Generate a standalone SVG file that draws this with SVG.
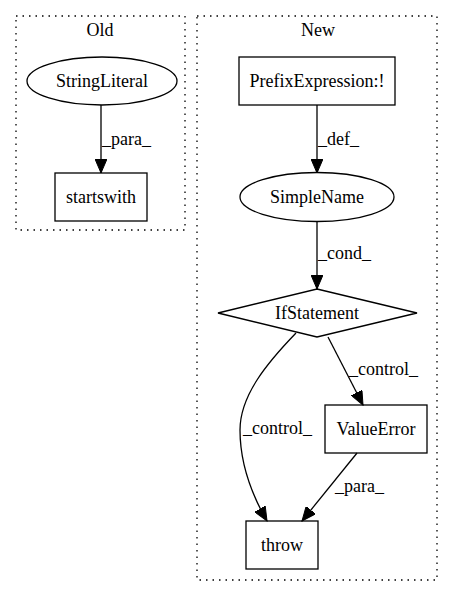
<svg xmlns="http://www.w3.org/2000/svg" width="453" height="596" viewBox="0 0 453 596">
<style>
text{font-family:"Liberation Serif","Times New Roman",serif;font-size:18px;fill:#000}
.c{text-anchor:middle}
.shape{fill:none;stroke:#000;stroke-width:1.3}
.cluster{fill:none;stroke:#000;stroke-width:1.3;stroke-dasharray:1.5,5}
.edge{fill:none;stroke:#000;stroke-width:1.3;marker-end:url(#arrow)}
</style>
<defs>
<marker id="arrow" markerUnits="userSpaceOnUse" markerWidth="15" markerHeight="12" refX="14" refY="6" orient="auto">
<path d="M0,0 L14,6 L0,12 z" fill="#000" stroke="#000" stroke-width="1"/>
</marker>
</defs>
<rect width="453" height="596" fill="#fff"/>
<g id="cluster_old">
<rect class="cluster" x="16" y="16" width="169" height="214"/>
<text class="c" x="100" y="36">Old</text>
</g>
<g id="cluster_new">
<rect class="cluster" x="197" y="16" width="240" height="564"/>
<text class="c" x="318" y="36">New</text>
</g>
<g id="connectors">
<path class="edge" d="M101,105 L101,173"/>
<text x="102" y="145">_para_</text>
<path class="edge" d="M317,105 L317,173"/>
<text x="318" y="145">_def_</text>
<path class="edge" d="M317,222 L317,289"/>
<text x="318" y="259">_cond_</text>
<path class="edge" d="M328,337 L363,405"/>
<text x="349" y="375">_control_</text>
<path class="edge" d="M296,333 C268,362 240,395 240,430 C240,465 252,495 267,521"/>
<text x="243" y="434">_control_</text>
<path class="edge" d="M357,453 L302,521"/>
<text x="335" y="492">_para_</text>
</g>
<g id="StringLiteral">
<ellipse class="shape" cx="102" cy="81" rx="75" ry="24"/>
<text class="c" x="102" y="87">StringLiteral</text>
</g>
<g id="startswith">
<rect class="shape" x="55" y="173" width="92" height="48"/>
<text class="c" x="101" y="203">startswith</text>
</g>
<g id="PrefixExpression">
<rect class="shape" x="239" y="57" width="156" height="48"/>
<text class="c" x="317" y="87">PrefixExpression:!</text>
</g>
<g id="SimpleName">
<ellipse class="shape" cx="317" cy="197" rx="77" ry="24.5"/>
<text class="c" x="317" y="203">SimpleName</text>
</g>
<g id="IfStatement">
<polygon class="shape" points="317,289 417,313 317,337 218,313"/>
<text class="c" x="317" y="319">IfStatement</text>
</g>
<g id="ValueError">
<rect class="shape" x="325" y="405" width="102" height="48"/>
<text class="c" x="376" y="435">ValueError</text>
</g>
<g id="throw">
<rect class="shape" x="246" y="521" width="72" height="48"/>
<text class="c" x="282" y="551">throw</text>
</g>
</svg>
